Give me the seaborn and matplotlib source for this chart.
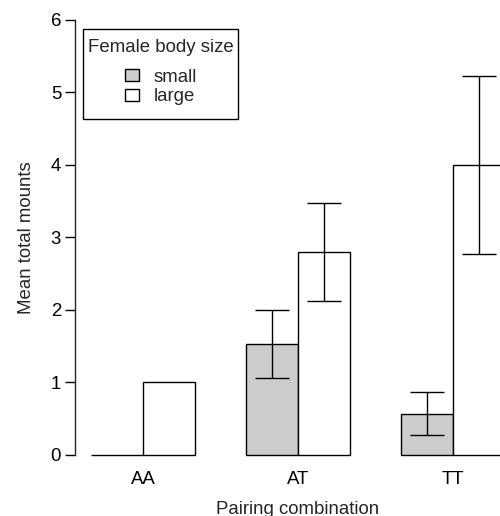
import numpy as np
import pandas as pd
import matplotlib
matplotlib.use("Agg")
import matplotlib.pyplot as plt
import seaborn as sns
from matplotlib.patches import Rectangle

# values
pairings = ["AA", "AT", "TT"]
sizes = ["small", "large"]
means_small = [0.0, 1.53, 0.57]
means_large = [1.0, 2.80, 4.00]
low_small = [np.nan, 1.06, 0.27]
high_small = [np.nan, 2.00, 0.87]
low_large = [np.nan, 2.12, 2.77]
high_large = [np.nan, 3.48, 5.23]
yticks = [0, 1, 2, 3, 4, 5, 6]

df = pd.DataFrame({
    "pairing": pairings * 2,
    "size": ["small"] * 3 + ["large"] * 3,
    "mean": means_small + means_large,
})
lows = {"small": low_small, "large": low_large}
highs = {"small": high_small, "large": high_large}

FS = 13.4
W, H = 500, 516
sns.set_style("ticks")
plt.rcParams['font.family'] = ['Liberation Sans', 'DejaVu Sans']
plt.rcParams['font.size'] = FS

fig = plt.figure(figsize=(W / 100, H / 100), dpi=100)
ax = fig.add_axes([0.15, 0.0845, 0.892, 0.9105])

sns.barplot(data=df, x="pairing", y="mean", hue="size", order=pairings,
            hue_order=sizes, palette={"small": "#cccccc", "large": "white"},
            edgecolor="black", linewidth=1.0, width=2/3, gap=0,
            errorbar=None, saturation=1, ax=ax)

# error bars placed at the centres of the drawn bars
for cont, s in zip(ax.containers, sizes):
    for bar, lo, hi in zip(cont, lows[s], highs[s]):
        if np.isnan(lo):
            continue
        xc = bar.get_x() + bar.get_width() / 2
        y = bar.get_height()
        ax.errorbar(xc, y, yerr=[[y - lo], [hi - y]], fmt="none",
                    ecolor="black", elinewidth=1.0, capsize=12, capthick=1.0)

ax.set_xlim(-0.439, 2.439)
ax.set_ylim(-0.24, 6.24)
ax.set_yticks(yticks)
ax.spines["left"].set_bounds(0, 6)
for sp in ["top", "right", "bottom"]:
    ax.spines[sp].set_visible(False)
ax.spines["left"].set_linewidth(1.0)
ax.tick_params(axis="y", length=7, width=1.0, pad=3, labelsize=FS, colors="black")
ax.tick_params(axis="x", length=0, pad=-1.2, labelsize=FS, colors="black")
ax.set_xlabel("Pairing combination", fontsize=FS, labelpad=9.2)
ax.set_ylabel("Mean total mounts", fontsize=FS, labelpad=11)

# legend contents without frame; box drawn separately (R-style loose box)
sns.move_legend(ax, "upper center", bbox_to_anchor=(161 / W, 1 - 39 / H),
                bbox_transform=fig.transFigure, title="Female body size",
                frameon=False, borderaxespad=0, fontsize=FS, title_fontsize=FS,
                handlelength=0.75, handleheight=0.6, handletextpad=0.8,
                labelspacing=0.16, alignment="center", borderpad=0)
leg = ax.get_legend()
leg._legend_box.sep = 4  # gap under the title
leg._legend_handle_box.pad = 5
fig.add_artist(Rectangle((83 / W, 1 - 119 / H), 155 / W, 90 / H,
                         transform=fig.transFigure, fill=False,
                         edgecolor="black", linewidth=1.0))

fig.savefig("out.png", dpi=100)
